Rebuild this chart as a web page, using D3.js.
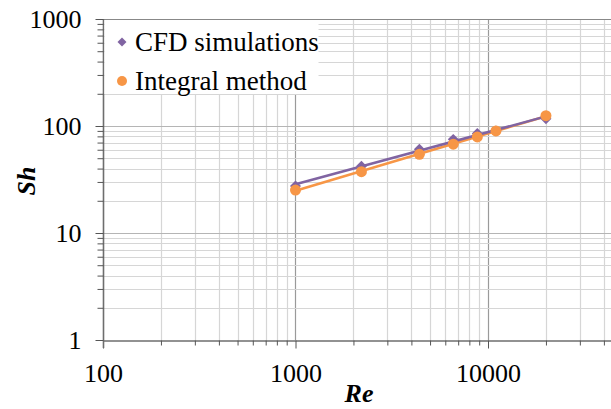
<!DOCTYPE html>
<html>
<head>
<meta charset="utf-8">
<script src="https://cdn.jsdelivr.net/npm/d3@7/dist/d3.min.js"></script>
<style>
  body { margin: 0; background: #fff; }
  svg text { font-family: "Liberation Serif", "Times New Roman", serif; fill: #000; }
</style>
</head>
<body>
<div id="chart"></div>
<script>
// data
var reynolds = [1000, 2200, 4400, 6600, 8800, 11000, 20000];
var cfdSh = [27.5, 42, 60.5, 75, 85, 90, 117];
var integralSh = [25.2, 37.4, 54.4, 67.7, 79, 90, 125];
var seriesNames = ["CFD simulations", "Integral method"];
var xTickLabels = [100, 1000, 10000];
var yTickLabels = [1, 10, 100, 1000];

var width = 611, height = 409;
var purple = "#8064a2", orange = "#f79646";

var svg = d3.select("#chart").append("svg")
    .attr("width", width)
    .attr("height", height);

var x = d3.scaleLog().domain([100, 100000]).range([103, 680.5]);
var y = d3.scaleLog().domain([1, 1000]).range([340, 19]);

// all 1..9 multiples per decade
function logSteps(lo, hi) {
    var out = [];
    for (var p = lo; p < hi; p *= 10) {
        for (var k = 1; k < 10; k++) out.push(p * k);
    }
    out.push(hi);
    return out;
}
var xSteps = logSteps(100, 100000);
var ySteps = logSteps(1, 1000);
function isMajor(v) { return Math.abs(Math.log10(v) - Math.round(Math.log10(v))) < 1e-9; }

// grid
var grid = svg.append("g");
grid.selectAll(".vg").data(xSteps.filter(function(d) { return d > 100; }))
  .enter().append("line")
    .attr("x1", function(d) { return Math.round(x(d)) + 0.5; })
    .attr("x2", function(d) { return Math.round(x(d)) + 0.5; })
    .attr("y1", y(1000)).attr("y2", y(1))
    .attr("stroke", function(d) { return isMajor(d) ? "#9a9a9a" : "#d6d6d6"; })
    .attr("stroke-width", 1.2);
grid.selectAll(".hg").data(ySteps.filter(function(d) { return d > 1; }))
  .enter().append("line")
    .attr("x1", x(100)).attr("x2", width)
    .attr("y1", function(d) { return Math.round(y(d)) + 0.5; })
    .attr("y2", function(d) { return Math.round(y(d)) + 0.5; })
    .attr("stroke", function(d) { return d === 1000 ? "#888" : (isMajor(d) ? "#b5b5b5" : "#d6d6d6"); })
    .attr("stroke-width", 1.2);

// axes
var xAxis = svg.append("g")
    .attr("transform", "translate(0," + (Math.round(y(1)) + 0.5) + ")")
    .call(d3.axisBottom(x).tickValues(xSteps).tickSizeInner(5).tickSizeOuter(0)
        .tickFormat(function(d) { return xTickLabels.indexOf(d) >= 0 ? d : ""; }));
xAxis.select(".domain").attr("stroke", "#6e6e6e").attr("stroke-width", 1.6);
xAxis.selectAll(".tick line").attr("stroke", "#555")
    .attr("y2", function(d) { return isMajor(d) ? 8 : 5; });
xAxis.selectAll(".tick text").attr("font-size", 26).attr("dy", 0).attr("y", 41)
    .style("font-family", "Liberation Serif");

var yAxis = svg.append("g")
    .attr("transform", "translate(" + (Math.round(x(100)) + 0.5) + ",0)")
    .call(d3.axisLeft(y).tickValues(ySteps).tickSizeInner(6).tickSizeOuter(0)
        .tickFormat(function(d) { return yTickLabels.indexOf(d) >= 0 ? d : ""; }));
yAxis.select(".domain").attr("stroke", "#6e6e6e").attr("stroke-width", 1.6)
    .attr("d", "M0," + y(1000) + "V" + (y(1) + 8));
yAxis.selectAll(".tick line").attr("stroke", "#555")
    .attr("x2", function(d) { return isMajor(d) ? -8 : -6; });
yAxis.selectAll(".tick text").attr("font-size", 26).attr("x", -22).attr("dy", "0.34em")
    .style("font-family", "Liberation Serif");

// power-law trend lines (least squares in log-log)
function powerFit(xs, ys) {
    var lx = xs.map(Math.log10), ly = ys.map(Math.log10);
    var mx = d3.mean(lx), my = d3.mean(ly);
    var b = d3.sum(lx, function(v, i) { return (v - mx) * (ly[i] - my); }) /
            d3.sum(lx, function(v) { return (v - mx) * (v - mx); });
    var a = my - b * mx;
    return function(v) { return Math.pow(10, a + b * Math.log10(v)); };
}
var ext = d3.extent(reynolds);
[[integralSh, orange], [cfdSh, purple]].forEach(function(s) {
    var f = powerFit(reynolds, s[0]);
    svg.append("line")
        .attr("x1", x(ext[0])).attr("y1", y(f(ext[0])))
        .attr("x2", x(ext[1])).attr("y2", y(f(ext[1])))
        .attr("stroke", s[1]).attr("stroke-width", 2.5);
});

// markers
var diamond = d3.symbol().type(d3.symbolSquare).size(60);
svg.selectAll(".cfd").data(reynolds).enter().append("path")
    .attr("d", diamond)
    .attr("transform", function(d, i) { return "translate(" + x(d) + "," + y(cfdSh[i]) + ") rotate(45)"; })
    .attr("fill", purple);
svg.selectAll(".int").data(reynolds).enter().append("circle")
    .attr("cx", function(d) { return x(d); })
    .attr("cy", function(d, i) { return y(integralSh[i]); })
    .attr("r", 5.5)
    .attr("fill", orange);

// legend
var legend = svg.append("g");
legend.append("rect").attr("x", 104.5).attr("y", 20).attr("width", 214).attr("height", 74).attr("fill", "#fff");
var legRows = legend.selectAll(".row").data(seriesNames).enter().append("g")
    .attr("transform", function(d, i) { return "translate(122," + (42 + i * 39) + ")"; });
legRows.each(function(d, i) {
    var g = d3.select(this);
    if (i === 0) {
        g.append("path").attr("d", d3.symbol().type(d3.symbolSquare).size(40)).attr("transform", "rotate(45)").attr("fill", purple);
    } else {
        g.append("circle").attr("r", 5).attr("fill", orange);
    }
    g.append("text").attr("x", 13).attr("dy", "0.35em").attr("font-size", 27).text(d);
});

// axis titles
svg.append("text").attr("x", 359).attr("y", 402).attr("text-anchor", "middle")
    .attr("font-size", 26).attr("font-weight", "bold").attr("font-style", "italic").text("Re");
svg.append("text").attr("transform", "translate(35,181) rotate(-90)").attr("text-anchor", "middle")
    .attr("font-size", 26).attr("font-weight", "bold").attr("font-style", "italic").text("Sh");
</script>
</body>
</html>
